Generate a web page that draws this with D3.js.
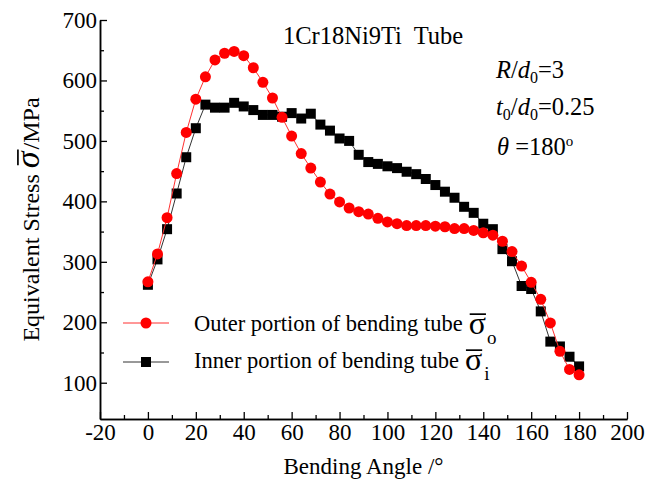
<!DOCTYPE html>
<html>
<head>
<meta charset="utf-8">
<script src="https://cdn.jsdelivr.net/npm/d3@7"></script>
<style>
body { margin: 0; background: #fff; }
text { font-family: "Liberation Serif", "Times New Roman", serif; fill: #000; }
</style>
</head>
<body>
<div id="chart"></div>
<script>
// bending angle (deg) and equivalent stress (MPa)
var angles = [0, 4, 8, 12, 16, 20, 24, 28, 32, 36, 40, 44, 48, 52, 56, 60, 64, 68, 72, 76, 80, 84, 88,
              92, 96, 100, 104, 108, 112, 116, 120, 124, 128, 132, 136, 140, 144, 148, 152, 156, 160,
              164, 168, 172, 176, 180];
var outerStress = [267, 313, 373, 446, 514, 569, 606, 634, 645, 648, 641, 621, 597, 571, 539, 508, 479,
                   455, 432, 412, 399, 389, 383, 379, 372, 366, 363, 360, 360, 360, 359, 358, 355, 355,
                   352, 348, 344, 334, 317, 293, 266, 238, 199, 152, 122, 113];
var innerStress = [262, 304, 354, 413, 473, 521, 560, 555, 555, 563, 557, 551, 543, 543, 540, 546, 537,
                   545, 527, 517, 504, 500, 477, 465, 462, 458, 455, 449, 445, 437, 427, 416, 406, 391,
                   381, 363, 354, 321, 301, 260, 255, 218, 168, 160, 143, 127];

var xTicks = [-20, 0, 20, 40, 60, 80, 100, 120, 140, 160, 180, 200];
var xMinor = [-10, 10, 30, 50, 70, 90, 110, 130, 150, 170, 190];
var yTicks = [100, 200, 300, 400, 500, 600, 700];
var yMinor = [150, 250, 350, 450, 550, 650];

var WIDTH = 661, HEIGHT = 480;
var TICK_FONT = 23;
var TITLE_FONT = 23;
var YTITLE_FONT = 24;
var NOTE_FONT = 24.5;
var LEGEND_FONT = 22.5;

var svg = d3.select("#chart").append("svg")
    .attr("width", WIDTH)
    .attr("height", HEIGHT);

var x = d3.scaleLinear().domain([-20, 200]).range([100, 627]);
var y = d3.scaleLinear().domain([40, 700]).range([419, 20]);

// axes, ticks pointing inward
function styleAxis(g) {
    g.select(".domain").attr("stroke", "#000").attr("stroke-width", 1.5);
    g.selectAll(".tick line").attr("stroke", "#000").attr("stroke-width", 1.3);
    g.selectAll(".tick text").style("font-family", '"Liberation Serif", serif')
        .style("font-size", TICK_FONT + "px").attr("fill", "#000");
}

svg.append("g")
    .attr("transform", "translate(0," + y.range()[0] + ")")
    .call(d3.axisBottom(x).tickValues(xMinor).tickSize(-4).tickSizeOuter(0).tickFormat(""))
    .call(styleAxis);
svg.append("g")
    .attr("transform", "translate(0," + y.range()[0] + ")")
    .call(d3.axisBottom(x).tickValues(xTicks).tickSize(-7).tickSizeOuter(0).tickPadding(5)
        .tickFormat(function(d) { return String(d); }))
    .call(styleAxis);

svg.append("g")
    .attr("transform", "translate(" + x.range()[0] + ",0)")
    .call(d3.axisLeft(y).tickValues(yMinor).tickSize(-4).tickSizeOuter(0).tickFormat(""))
    .call(styleAxis);
svg.append("g")
    .attr("transform", "translate(" + x.range()[0] + ",0)")
    .call(d3.axisLeft(y).tickValues(yTicks).tickSize(-7).tickSizeOuter(0).tickPadding(3))
    .call(styleAxis);

// sigma with a bar over it, returns x after the glyph
function sigmaBar(g, x0, base, size, italic) {
    var t = g.append("text")
        .attr("x", x0).attr("y", base)
        .style("font-size", size + "px")
        .style("font-style", italic ? "italic" : "normal")
        .text("σ");
    var w = t.node().getComputedTextLength();
    g.append("line")
        .attr("x1", x0 + (italic ? 3 : 1)).attr("x2", x0 + w + (italic ? 2 : 0))
        .attr("y1", base - size * 0.62).attr("y2", base - size * 0.62)
        .attr("stroke", "#000").attr("stroke-width", 1.7);
    return x0 + w;
}

// axis titles
svg.append("text")
    .attr("x", (x.range()[0] + x.range()[1]) / 2)
    .attr("y", 474)
    .attr("text-anchor", "middle")
    .style("font-size", TITLE_FONT + "px")
    .text("Bending Angle /°");

var ytitle = svg.append("g");
var t1 = ytitle.append("text").attr("x", 0).attr("y", 0).style("font-size", YTITLE_FONT + "px").text("Equivalent Stress");
var xx = t1.node().getComputedTextLength() + 6;
xx = sigmaBar(ytitle, xx, 0, 34, true);
var t2 = ytitle.append("text").attr("x", xx + 2).attr("y", 0).style("font-size", YTITLE_FONT + "px").text("/MPa");
var total = xx + 2 + t2.node().getComputedTextLength();
var yMid = (y.range()[0] + y.range()[1]) / 2;
ytitle.attr("transform", "translate(39," + (yMid + total / 2) + ") rotate(-90)");

// annotations
svg.append("text").attr("x", 283).attr("y", 44).style("font-size", NOTE_FONT + "px")
    .attr("xml:space", "preserve").text("1Cr18Ni9Ti  Tube");

var a1 = svg.append("text").attr("x", 496).attr("y", 78).style("font-size", NOTE_FONT + "px");
a1.append("tspan").style("font-style", "italic").text("R");
a1.append("tspan").text("/");
a1.append("tspan").style("font-style", "italic").text("d");
a1.append("tspan").attr("dy", 5).style("font-size", "16px").text("0");
a1.append("tspan").attr("dy", -5).text("=3");

var a2 = svg.append("text").attr("x", 496).attr("y", 115).style("font-size", NOTE_FONT + "px");
a2.append("tspan").style("font-style", "italic").text("t");
a2.append("tspan").attr("dy", 5).style("font-size", "16px").text("0");
a2.append("tspan").attr("dy", -5).text("/");
a2.append("tspan").style("font-style", "italic").text("d");
a2.append("tspan").attr("dy", 5).style("font-size", "16px").text("0");
a2.append("tspan").attr("dy", -5).text("=0.25");

var a3 = svg.append("text").attr("x", 497).attr("y", 155).style("font-size", NOTE_FONT + "px");
a3.append("tspan").style("font-style", "italic").text("θ");
a3.append("tspan").attr("xml:space", "preserve").text(" =180");
a3.append("tspan").attr("dy", -9).style("font-size", "15px").text("o");

// series
var line = d3.line()
    .x(function(d) { return x(d[0]); })
    .y(function(d) { return y(d[1]); });

var innerPts = d3.zip(angles, innerStress);
var outerPts = d3.zip(angles, outerStress);

svg.append("path").datum(innerPts)
    .attr("d", line).attr("fill", "none").attr("stroke", "#333").attr("stroke-width", 1);
svg.selectAll(".sq").data(innerPts).enter().append("rect")
    .attr("class", "sq")
    .attr("x", function(d) { return x(d[0]) - 5; })
    .attr("y", function(d) { return y(d[1]) - 5; })
    .attr("width", 10).attr("height", 10)
    .attr("fill", "#000");

svg.append("path").datum(outerPts)
    .attr("d", line).attr("fill", "none").attr("stroke", "#ff3030").attr("stroke-width", 1);
svg.selectAll(".dot").data(outerPts).enter().append("circle")
    .attr("class", "dot")
    .attr("cx", function(d) { return x(d[0]); })
    .attr("cy", function(d) { return y(d[1]); })
    .attr("r", 5.5)
    .attr("fill", "#ff0000");

// legend
var legend = svg.append("g");
legend.append("line").attr("x1", 123).attr("x2", 169).attr("y1", 323).attr("y2", 323)
    .attr("stroke", "#ff3030").attr("stroke-width", 1);
legend.append("circle").attr("cx", 146).attr("cy", 323).attr("r", 5.5).attr("fill", "#ff0000");
legend.append("line").attr("x1", 123).attr("x2", 169).attr("y1", 362).attr("y2", 362)
    .attr("stroke", "#333").attr("stroke-width", 1);
legend.append("rect").attr("x", 141).attr("y", 357).attr("width", 10).attr("height", 10).attr("fill", "#000");

var lt1 = legend.append("text").attr("x", 194).attr("y", 331).style("font-size", LEGEND_FONT + "px")
    .text("Outer portion of bending tube");
var e1 = sigmaBar(legend, 194 + lt1.node().getComputedTextLength() + 6, 334, 32, false);
legend.append("text").attr("x", e1 + 1).attr("y", 344).style("font-size", "19px").text("o");

var lt2 = legend.append("text").attr("x", 194).attr("y", 368).style("font-size", LEGEND_FONT + "px")
    .text("Inner portion of bending tube");
var e2 = sigmaBar(legend, 194 + lt2.node().getComputedTextLength() + 6, 370, 32, false);
legend.append("text").attr("x", e2 + 2).attr("y", 380).style("font-size", "19px").text("i");
</script>
</body>
</html>
